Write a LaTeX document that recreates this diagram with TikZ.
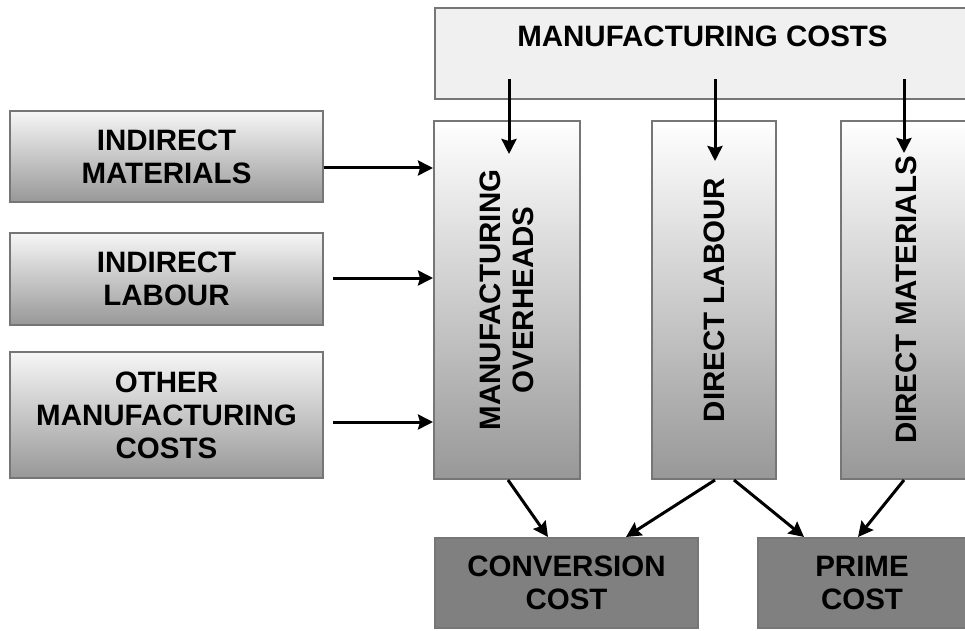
\documentclass[tikz,border=0pt]{standalone}
\usepackage{fontspec}
\setmainfont{Liberation Sans}
\usetikzlibrary{arrows.meta}
\usetikzlibrary{calc}

\definecolor{boxline}{RGB}{118,118,118}
\definecolor{shadetop}{RGB}{246,246,246}
\definecolor{shadebot}{RGB}{152,152,152}
\definecolor{toplight}{RGB}{240,240,240}
\definecolor{darkbox}{RGB}{128,128,128}

\begin{document}
\begin{tikzpicture}[x=1pt,y=1pt,
    font=\bfseries\fontsize{29.5}{33}\selectfont,
    box/.style={draw=boxline, line width=2pt, align=center, inner sep=0pt},
    sidebox/.style={box, top color=shadetop, bottom color=shadebot, minimum width=313pt},
    colbox/.style={box, top color=white, bottom color=shadebot, minimum height=358pt},
    costbox/.style={box, fill=darkbox, minimum height=90pt},
    arr/.style={line width=3pt, -{Stealth[length=15pt,width=15pt,inset=2pt]}}]
    \useasboundingbox (0,0) rectangle (965,630);

    \node[box, fill=toplight, minimum width=555pt, minimum height=91pt] (mc) at (712.5,576.5) {};
    \node[anchor=north, inner sep=0pt] (mctext) at ($(mc.north)+(-10,-19)$) {MANUFACTURING COSTS};

    \node[sidebox, minimum height=91pt] (im) at (166.5,473.5) {INDIRECT\\MATERIALS};
    \node[sidebox, minimum height=92pt] (il) at (166.5,351) {INDIRECT\\LABOUR};
    \node[sidebox, minimum height=126pt] (omc) at (166.5,215) {OTHER\\MANUFACTURING\\COSTS};

    \node[colbox, minimum width=146pt] (mo) at (507,330) {};
    \node[rotate=90, align=center] (motext) at (mo) {MANUFACTURING\\OVERHEADS};
    \node[colbox, minimum width=124pt] (dl) at (714,330) {};
    \node[rotate=90] (dltext) at (dl) {DIRECT LABOUR};
    \node[colbox, minimum width=140pt] (dm) at (911,330) {};
    \node[rotate=90] (dmtext) at ($(dm)+(-5,0)$) {DIRECT MATERIALS};

    \node[costbox, minimum width=263pt] (cc) at (566.5,47) {CONVERSION\\COST};
    \node[costbox, minimum width=226pt] (pc) at (871,47) {};
    \node[align=center] (pctext) at ($(pc)+(-9,0)$) {PRIME\\COST};

    % from the top box
    \draw[arr] ($(mo.north)+(2,41)$) -- ($(mo.north)+(2,-34)$);
    \draw[arr] ($(dl.north)+(1,41)$) -- ($(dl.north)+(1,-41)$);
    \draw[arr] ($(dm.north)+(-7,41)$) -- ($(dm.north)+(-7,-33)$);

    % overheads
    \draw[arr] ($(im.east)+(0,-11.5)$) -- ($(im.east -| mo.west)+(0,-11.5)$);
    \draw[arr] ($(il.east)+(9,1)$) -- ($(il.east -| mo.west)+(0,1)$);
    \draw[arr] ($(omc.east)+(9,-7)$) -- ($(omc.east -| mo.west)+(0,-7)$);

    % totals
    \draw[arr] ($(mo.south)+(1,0)$) -- ($(cc.north)+(-18.5,0)$);
    \draw[arr] ($(dl.south)+(1,0)$) -- ($(cc.north)+(59.5,0)$);
    \draw[arr] ($(dl.south)+(20,0)$) -- ($(pc.north)+(-67,0)$);
    \draw[arr] ($(dm.south)+(-7,0)$) -- ($(pc.north)+(-13,0)$);
\end{tikzpicture}
\end{document}
